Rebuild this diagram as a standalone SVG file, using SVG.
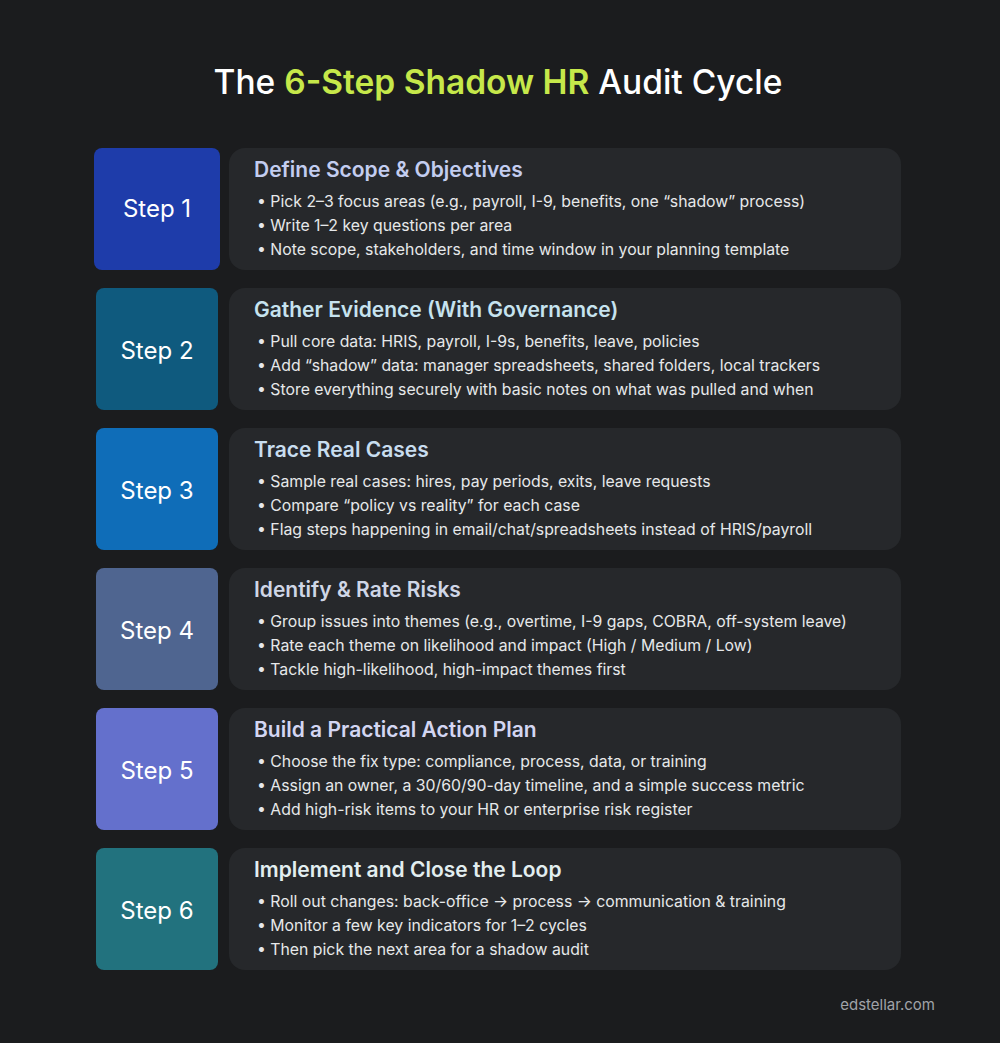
<svg xmlns="http://www.w3.org/2000/svg" width="1000" height="1043" viewBox="0 0 1000 1043">
<style>
.t{font-family:Inter,"Liberation Sans",sans-serif}
.step{font-family:Inter,"Liberation Sans",sans-serif;font-size:24px;fill:#ffffff;text-anchor:middle}
.card{fill:#26282b}
.h{font-family:Inter,"Liberation Sans",sans-serif;font-size:21px;font-weight:600}
.b{font-family:Inter,"Liberation Sans",sans-serif;font-size:15.8px;fill:#e6e8ea}
</style>
<rect width="1000" height="1043" fill="#1b1c1e"/>
<text class="t" x="498" y="94" font-size="33.5" font-weight="500" fill="#ffffff" text-anchor="middle">The <tspan fill="#c6e84a" font-weight="600">6-Step Shadow HR</tspan> Audit Cycle</text>
<g id="step1"><rect x="94" y="148" width="126" height="122" rx="8" fill="#1e3caa"/><text class="step" x="157" y="217">Step 1</text>
<rect class="card" x="229" y="148" width="672" height="122" rx="16"/><text class="h" x="254" y="177" fill="#c3cdf0">Define Scope &amp; Objectives</text>
<text class="b" x="257" y="207">•  Pick 2–3 focus areas (e.g., payroll, I-9, benefits, one “shadow” process)</text>
<text class="b" x="257" y="231">•  Write 1–2 key questions per area</text>
<text class="b" x="257" y="255">•  Note scope, stakeholders, and time window in your planning template</text></g>
<g id="step2"><rect x="96" y="288" width="122" height="122" rx="8" fill="#0f5a7e"/><text class="step" x="157" y="359">Step 2</text>
<rect class="card" x="229" y="288" width="672" height="122" rx="16"/><text class="h" x="254" y="317" fill="#c6e3ef">Gather Evidence (With Governance)</text>
<text class="b" x="257" y="347">•  Pull core data: HRIS, payroll, I-9s, benefits, leave, policies</text>
<text class="b" x="257" y="371">•  Add “shadow” data: manager spreadsheets, shared folders, local trackers</text>
<text class="b" x="257" y="395">•  Store everything securely with basic notes on what was pulled and when</text></g>
<g id="step3"><rect x="96" y="428" width="122" height="122" rx="8" fill="#0f6db8"/><text class="step" x="157" y="499">Step 3</text>
<rect class="card" x="229" y="428" width="672" height="122" rx="16"/><text class="h" x="254" y="457" fill="#c8ddef">Trace Real Cases</text>
<text class="b" x="257" y="487">•  Sample real cases: hires, pay periods, exits, leave requests</text>
<text class="b" x="257" y="511">•  Compare “policy vs reality” for each case</text>
<text class="b" x="257" y="535">•  Flag steps happening in email/chat/spreadsheets instead of HRIS/payroll</text></g>
<g id="step4"><rect x="96" y="568" width="122" height="122" rx="8" fill="#4f6590"/><text class="step" x="157" y="639">Step 4</text>
<rect class="card" x="229" y="568" width="672" height="122" rx="16"/><text class="h" x="254" y="597" fill="#cfd6e6">Identify &amp; Rate Risks</text>
<text class="b" x="257" y="627">•  Group issues into themes (e.g., overtime, I-9 gaps, COBRA, off-system leave)</text>
<text class="b" x="257" y="651">•  Rate each theme on likelihood and impact (High / Medium / Low)</text>
<text class="b" x="257" y="675">•  Tackle high-likelihood, high-impact themes first</text></g>
<g id="step5"><rect x="96" y="708" width="122" height="122" rx="8" fill="#6470cc"/><text class="step" x="157" y="779">Step 5</text>
<rect class="card" x="229" y="708" width="672" height="122" rx="16"/><text class="h" x="254" y="737" fill="#d3d6f2">Build a Practical Action Plan</text>
<text class="b" x="257" y="767">•  Choose the fix type: compliance, process, data, or training</text>
<text class="b" x="257" y="791">•  Assign an owner, a 30/60/90-day timeline, and a simple success metric</text>
<text class="b" x="257" y="815">•  Add high-risk items to your HR or enterprise risk register</text></g>
<g id="step6"><rect x="96" y="848" width="122" height="122" rx="8" fill="#22727e"/><text class="step" x="157" y="919">Step 6</text>
<rect class="card" x="229" y="848" width="672" height="122" rx="16"/><text class="h" x="254" y="877" fill="#e2eef0">Implement and Close the Loop</text>
<text class="b" x="257" y="907">•  Roll out changes: back-office → process → communication &amp; training</text>
<text class="b" x="257" y="931">•  Monitor a few key indicators for 1–2 cycles</text>
<text class="b" x="257" y="955">•  Then pick the next area for a shadow audit</text></g>
<g id="connectors"/>
<text class="t" x="935" y="1010" font-size="15" fill="#a0a3a8" text-anchor="end">edstellar.com</text>
</svg>
